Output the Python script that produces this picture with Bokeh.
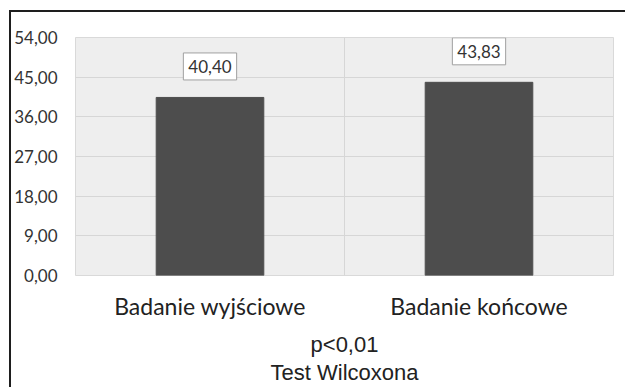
from bokeh.plotting import figure
from bokeh.models import ColumnDataSource, FixedTicker, Range1d
from bokeh.core.properties import value
from bokeh.embed import file_html
from bokeh.resources import INLINE

categories = ["Badanie wyjściowe", "Badanie końcowe"]
values = [40.40, 43.83]
value_labels = ["40,40", "43,83"]
y_ticks = [0, 9, 18, 27, 36, 45, 54]
y_tick_labels = ["0,00", "9,00", "18,00", "27,00", "36,00", "45,00", "54,00"]
footnote = "p<0,01\nTest Wilcoxona"

xpos = [i + 0.5 for i in range(len(categories))]
src = ColumnDataSource(dict(x=xpos, top=values, lab=value_labels))

W, H = 616, 377
p = figure(width=W, height=H, output_backend="svg", toolbar_location=None,
           x_range=Range1d(0, len(categories)), y_range=Range1d(0, 54),
           min_border_left=64, min_border_right=14, min_border_top=25,
           min_border_bottom=114)
p.styles = {"margin-left": "9px", "margin-top": "10px",
            "border-left": "2px solid #1e1e1e", "border-top": "2px solid #1e1e1e"}

p.background_fill_color = "#eeeeee"
p.border_fill_color = "white"
p.outline_line_color = "#d9d9d9"

p.vbar(x="x", top="top", width=0.4, bottom=0, source=src,
       fill_color="#4d4d4d", line_color="#4d4d4d")

p.text(x="x", y="top", text="lab", source=src, y_offset=-31,
       text_align="center", text_baseline="middle",
       text_font=value("Lato"), text_font_size="17px", text_color="#333333",
       background_fill_color="white", border_line_color="#a0a0a0",
       padding=(5, 7))

# y axis
p.yaxis.ticker = FixedTicker(ticks=y_ticks)
p.yaxis.major_label_overrides = {t: l for t, l in zip(y_ticks, y_tick_labels)}
p.yaxis.axis_line_color = None
p.yaxis.major_tick_line_color = None
p.yaxis.minor_tick_line_color = None
p.yaxis.major_label_standoff = 12
p.yaxis.major_label_text_font = "Lato"
p.yaxis.major_label_text_font_size = "17px"
p.yaxis.major_label_text_color = "#333333"

# x axis
p.xaxis.ticker = FixedTicker(ticks=xpos)
p.xaxis.major_label_overrides = {x: c for x, c in zip(xpos, categories)}
p.xaxis.axis_line_color = None
p.xaxis.major_tick_line_color = None
p.xaxis.minor_tick_line_color = None
p.xaxis.major_label_standoff = 10
p.xaxis.major_label_text_font = "Lato"
p.xaxis.major_label_text_font_size = "23px"
p.xaxis.major_label_text_color = "#222222"
p.xaxis.axis_label = footnote
p.xaxis.axis_label_standoff = 9
p.xaxis.axis_label_text_font = "Liberation Sans"
p.xaxis.axis_label_text_font_size = "22px"
p.xaxis.axis_label_text_line_height = 1.15
p.xaxis.axis_label_text_font_style = "normal"
p.xaxis.axis_label_text_color = "#222222"

p.ygrid.grid_line_color = "#d6d6d6"
p.ygrid.grid_line_width = 1
p.xgrid.ticker = FixedTicker(ticks=list(range(len(categories) + 1)))
p.xgrid.grid_line_color = "#d6d6d6"

open("out.html", "w").write(file_html(p, INLINE))
